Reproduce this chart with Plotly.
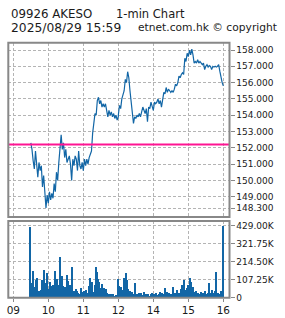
import pandas as pd
import plotly.graph_objects as go

# ---------------- data ----------------
morning_times = pd.date_range("2025-08-29 09:30", "2025-08-29 12:00", freq="2min")
afternoon_times = pd.date_range("2025-08-29 13:00", "2025-08-29 16:00", freq="2min")

morning_price = [
    152.3, 151.9, 151.2, 150.7, 151.8, 150.9, 150.2, 151.1, 150.6, 150.9,
    149.6, 150.3, 149.2, 148.3, 149.1, 148.6, 149.3, 148.8, 149.2, 148.9,
    149.8, 149.3, 150.5, 150.0, 151.1, 151.8, 152.8, 151.9, 152.3, 151.4,
    151.9, 151.1, 151.3, 151.5, 151.0, 150.0, 151.3, 150.9, 151.5, 151.3,
    150.6, 151.8, 150.9, 150.7, 151.1, 150.6, 151.3, 150.9, 151.3, 151.0,
    151.4, 151.6, 151.8, 152.9, 153.6, 154.1, 154.0, 154.9, 155.1, 154.7,
    154.9, 154.5, 154.7, 154.5, 154.7, 154.2, 153.9, 154.3, 154.0, 154.2,
    153.9, 154.1, 153.8, 154.0, 153.7, 153.9,
]
afternoon_price = [
    154.0, 154.6, 154.4, 155.0, 155.3, 155.5, 156.2, 156.0, 156.67, 156.3,
    155.5, 154.9, 154.0, 153.5, 153.9, 153.8, 154.0, 153.9, 154.1, 153.9,
    154.2, 154.5, 154.3, 154.1, 154.4, 153.6, 154.5, 154.4, 154.8, 154.6,
    154.3, 154.8, 154.7, 154.8, 155.0, 154.7, 154.9, 154.5, 155.1, 155.4,
    155.3, 155.7, 155.4, 155.6, 155.5, 155.4, 155.5, 155.4, 155.6, 155.9,
    155.8, 156.0, 156.4, 156.3, 156.5, 156.6, 156.5, 157.5, 157.3, 157.8,
    157.6, 158.0, 157.7, 158.05, 157.7, 157.2, 157.3, 157.2, 157.4, 157.2,
    157.3, 157.2, 157.1, 157.2, 156.8, 157.0, 157.1, 156.95, 157.05, 157.0,
    156.8, 157.0, 156.95, 157.0, 156.95, 157.0, 157.1, 156.7, 156.3, 156.0,
    155.8,
]
morning_vol_k = [
    420, 90, 160, 65, 30, 105, 120, 40, 26, 45,
    105, 60, 165, 90, 145, 45, 50, 95, 70, 75,
    60, 160, 45, 110, 75, 245, 90, 130, 70, 60,
    65, 135, 100, 45, 75, 60, 185, 40, 30, 50,
    40, 30, 25, 55, 35, 25, 40, 20, 45, 30,
    70, 115, 45, 95, 35, 75, 185, 155, 110, 95,
    60, 80, 55, 60, 40, 50, 30, 20, 18, 22,
    15, 20, 10, 15, 8, 12,
]
afternoon_vol_k = [
    100, 70, 40, 65, 45, 115, 55, 145, 105, 50,
    40, 30, 35, 25, 20, 85, 25, 20, 30, 20,
    30, 15, 35, 20, 25, 15, 20, 12, 20, 30,
    15, 25, 20, 30, 15, 25, 35, 20, 30, 20,
    55, 25, 35, 20, 30, 25, 20, 65, 25, 30,
    20, 45, 30, 25, 50, 75, 35, 105, 45, 60,
    75, 40, 115, 95, 65, 35, 25, 40, 20, 30,
    20, 35, 25, 30, 20, 40, 25, 30, 85, 30,
    25, 45, 30, 40, 155, 20, 30, 20, 40, 30,
    429,
]
prev_close = 152.2

price_ticks = [158.0, 157.0, 156.0, 155.0, 154.0, 153.0, 152.0, 151.0, 150.0, 149.0, 148.3]
vol_ticks_k = [0, 107.25, 214.5, 321.75, 429.0]
vol_tick_text = ["0", "107.25K", "214.50K", "321.75K", "429.00K"]
hour_ticks = ["09:00", "10:00", "11:00", "12:00", "14:00", "15:00", "16:00"]
hour_labels = ["09", "10", "11", "12", "14", "15", "16"]


def trading_minutes(ts):
    """Minutes since 09:00 with the 12:00-13:00 lunch break removed."""
    m = ts.hour * 60 + ts.minute - 9 * 60
    if ts.hour >= 13:
        m -= 60
    return m


times = list(morning_times) + list(afternoon_times)
xs = [trading_minutes(t) for t in times]
prices = morning_price + afternoon_price
vols = morning_vol_k + afternoon_vol_k
hour_x = [trading_minutes(pd.Timestamp("2025-08-29 " + h)) for h in hour_ticks]

# ---------------- figure ----------------
W, H = 285, 318
BLUE = "#1266a6"
GRID = "#b4b4b4"
FRAME = "#888888"
FONT = "DejaVu Sans"
TXT = "#1a1a1a"

x_dom = [8.3 / W, 229.5 / W]
y1_dom = [(H - 217) / H, (H - 42.7) / H]
y2_dom = [(H - 297.7) / H, (H - 221) / H]

fig = go.Figure()
fig.add_trace(go.Scatter(x=xs, y=prices, mode="lines",
                         line=dict(color=BLUE, width=1.2),
                         xaxis="x", yaxis="y", hoverinfo="skip"))
fig.add_trace(go.Bar(x=xs, y=vols, width=[2] * len(xs),
                     marker=dict(color=BLUE, line=dict(width=0)),
                     xaxis="x2", yaxis="y2", hoverinfo="skip"))

xr = [-8.6, 370.6]
common_x = dict(range=xr, domain=x_dom, showgrid=True, gridcolor=GRID,
                griddash="3px,2px", gridwidth=1, zeroline=False,
                tickvals=hour_x, showline=False, fixedrange=True, automargin=False)

fig.update_layout(
    template="none",
    width=W, height=H,
    margin=dict(l=0, r=0, t=0, b=0, pad=0),
    paper_bgcolor="white", plot_bgcolor="white",
    showlegend=False, bargap=0,
    xaxis=dict(**common_x, showticklabels=False, anchor="y"),
    yaxis=dict(domain=y1_dom, range=[147.75, 158.45], side="right",
               tickvals=price_ticks, ticktext=[f"{v:.3f}" for v in price_ticks],
               ticks="outside", ticklen=4, tickcolor=FRAME, tickwidth=1,
               tickfont=dict(family=FONT, size=9, color=TXT),
               showgrid=True, gridcolor=GRID, griddash="3px,2px", gridwidth=1,
               zeroline=False, showline=False, anchor="x", automargin=False),
    xaxis2=dict(**common_x, anchor="y2", ticks="outside", ticklen=3, tickcolor=FRAME,
                tickwidth=1, ticktext=hour_labels,
                tickfont=dict(family=FONT, size=10.5, color=TXT)),
    yaxis2=dict(domain=y2_dom, range=[0, 457], side="right",
                tickvals=vol_ticks_k, ticktext=vol_tick_text,
                ticks="outside", ticklen=4, tickcolor=FRAME, tickwidth=1,
                tickfont=dict(family=FONT, size=9, color=TXT),
                showgrid=True, gridcolor=GRID, griddash="3px,2px", gridwidth=1,
                zeroline=False, showline=False, anchor="x2", automargin=False),
    shapes=[
        dict(type="line", xref="x domain", yref="y", x0=0, x1=1,
             y0=prev_close, y1=prev_close, line=dict(color="#ff1493", width=2)),
        dict(type="rect", xref="x domain", yref="y domain", x0=0, x1=1, y0=0, y1=1,
             line=dict(color=FRAME, width=2)),
        dict(type="rect", xref="x2 domain", yref="y2 domain", x0=0, x1=1, y0=0, y1=1,
             line=dict(color=FRAME, width=2)),
    ],
    annotations=[
        dict(text="09926 AKESO", x=9 / W, y=1 - 14 / H, xref="paper", yref="paper",
             xanchor="left", yanchor="middle", showarrow=False,
             font=dict(family=FONT, size=11.8, color=TXT)),
        dict(text="1-min Chart", x=114 / W, y=1 - 14 / H, xref="paper", yref="paper",
             xanchor="left", yanchor="middle", showarrow=False,
             font=dict(family=FONT, size=11.5, color=TXT)),
        dict(text="2025/08/29 15:59", x=9 / W, y=1 - 28 / H, xref="paper", yref="paper",
             xanchor="left", yanchor="middle", showarrow=False,
             font=dict(family=FONT, size=12.3, color=TXT)),
        dict(text="etnet.com.hk © copyright", x=136 / W, y=1 - 28 / H, xref="paper",
             yref="paper", xanchor="left", yanchor="middle", showarrow=False,
             font=dict(family=FONT, size=10.7, color=TXT)),
    ],
)

fig.write_html("out.html", config={"displayModeBar": False})
